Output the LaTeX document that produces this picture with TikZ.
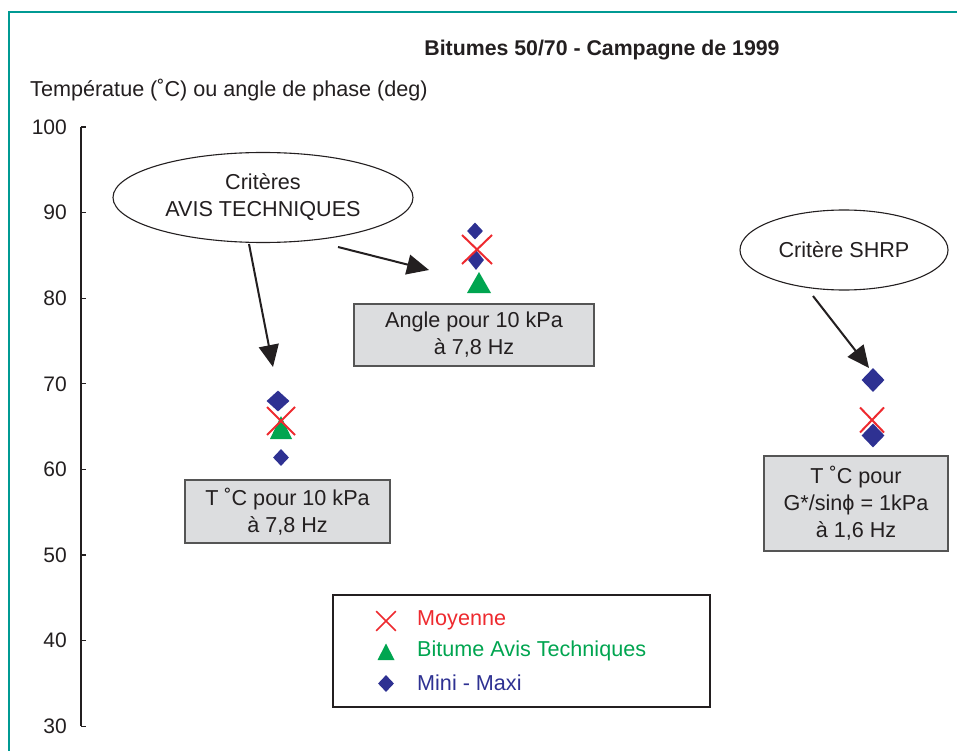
\documentclass[tikz,border=0pt]{standalone}
\usepackage{fontspec}
\setmainfont{Liberation Sans}
\usetikzlibrary{shapes.geometric,shapes.misc,arrows.meta}
\definecolor{frameteal}{HTML}{009A93}
\definecolor{moyred}{HTML}{EE2A2F}
\definecolor{bitgreen}{HTML}{00A550}
\definecolor{minblue}{HTML}{2E3192}
\definecolor{boxgray}{HTML}{DCDDDF}
\definecolor{boxedge}{HTML}{555555}
\definecolor{inkblack}{HTML}{231F20}
\tikzset{
  txt/.style={font=\fontsize{21.6}{27}\selectfont, text=inkblack, inner sep=0pt},
  infobox/.style={txt, draw=boxedge, fill=boxgray, line width=1.6pt, align=center},
  callout/.style={txt, ellipse, draw=inkblack, line width=1.1pt, align=center},
  pointer/.style={draw=inkblack, line width=2pt, -{Triangle[length=22pt,width=20pt]}},
  bigdiam/.style={diamond, fill=minblue, inner sep=0pt, minimum width=23pt, minimum height=21pt},
  smalldiam/.style={diamond, fill=minblue, inner sep=0pt, minimum width=16pt, minimum height=17pt},
  moycross/.style={cross out, draw=moyred, line width=2pt, inner sep=0pt, minimum width=26pt, minimum height=26pt},
  legcross/.style={cross out, draw=moyred, line width=1.6pt, inner sep=0pt, minimum width=18pt, minimum height=18pt},
  ticklab/.style={txt, font=\fontsize{21}{27}\selectfont, anchor=east},
}
\begin{document}
\begin{tikzpicture}[x=1pt,y=-1pt]
\useasboundingbox (0,0) rectangle (957,751);
\fill[white] (0,0) rectangle (957,751);
% frame
\draw[frameteal, line width=2pt] (9,751) -- (9,12) -- (957,12);

% titles
\node[txt, font=\fontsize{21.3}{27}\selectfont\bfseries] (title) at (602,50) {Bitumes 50/70 - Campagne de 1999};
\node[txt, anchor=west] (ylabel) at (30,90) {Températue (˚C) ou angle de phase (deg)};

% vertical axis
\draw[inkblack, line width=1.2pt] (81,127) -- (81,726);
\foreach \v/\yy in {100/127,90/212.6,80/298.2,70/383.8,60/469.4,50/555,40/640.6,30/726.2}{
  \draw[inkblack, line width=1.2pt] (81,\yy) -- (86,\yy);
  \node[ticklab] (lab\v) at (67,\yy) {\v};
}

% callouts
\node[callout, minimum width=300pt, minimum height=90pt] (e1) at (263,197.5) {Critères\\AVIS TECHNIQUES};
\node[callout, minimum width=208pt, minimum height=80pt] (e2) at (844,250) {Critère SHRP};

% info boxes
\node[infobox, minimum width=240pt, minimum height=62pt] (b1) at (474,335) {Angle pour 10 kPa\\à 7,8 Hz};
\node[infobox, minimum width=205pt, minimum height=63pt] (b2) at (287.5,511.5) {T ˚C pour 10 kPa\\à 7,8 Hz};
\node[infobox, minimum width=184pt, minimum height=95pt] (b3) at (856,503.5) {T ˚C pour\\G*/sinϕ = 1kPa\\à 1,6 Hz};

% pointers
\coordinate (p1s) at (249,244);
\coordinate (p1e) at (273,367);
\coordinate (p2s) at (338,247);
\coordinate (p2e) at (429,270);
\coordinate (p3s) at (813,296);
\coordinate (p3e) at (869,368);
\draw[pointer] (p1s) -- (p1e);
\draw[pointer] (p2s) -- (p2e);
\draw[pointer] (p3s) -- (p3e);

% data: T for 10 kPa
\node[bigdiam] (g1max) at (278,401) {};
\fill[bitgreen] (281,416) -- (292,439) -- (270,439) -- cycle;
\node[moycross] (g1moy) at (281,421) {};
\node[smalldiam] (g1min) at (281,457.5) {};

% data: phase angle
\node[smalldiam] (g2max) at (475,231) {};
\node[smalldiam, minimum height=20pt] (g2min) at (476,260) {};
\node[moycross, minimum width=28pt, minimum height=27pt] (g2moy) at (477,249.5) {};
\fill[bitgreen] (479,272) -- (491,293) -- (467,293) -- cycle;

% data: SHRP criterion
\node[bigdiam, minimum height=24pt] (g3max) at (873,380) {};
\node[moycross, minimum width=22pt, minimum height=23pt] (g3moy) at (872,420) {};
\node[bigdiam, minimum height=24pt] (g3min) at (873,435.5) {};

% legend
\node[draw=inkblack, line width=1.3pt, minimum width=377pt, minimum height=112pt, inner sep=0pt] (legend) at (521.5,651) {};
\node[legcross] (lgx) at (386,621) {};
\fill[bitgreen] (386,643.5) -- (394.5,660) -- (377.5,660) -- cycle;
\node[smalldiam] (lgd) at (386,683.5) {};
\node[txt, anchor=west, text=moyred] (lt1) at (417,620) {Moyenne};
\node[txt, anchor=west, text=bitgreen] (lt2) at (417,651) {Bitume Avis Techniques};
\node[txt, anchor=west, text=minblue] (lt3) at (417,683) {Mini - Maxi};
\end{tikzpicture}
\end{document}
